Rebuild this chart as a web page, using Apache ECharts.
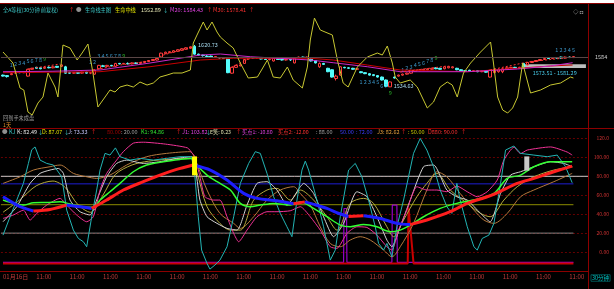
<!DOCTYPE html>
<html><head><meta charset="utf-8">
<script src="https://cdn.jsdelivr.net/npm/echarts@6/dist/echarts.min.js"></script>
<style>html,body{margin:0;padding:0;background:#000;overflow:hidden}#c{width:614px;height:289px}</style>
</head><body><div id="c"></div>
<script>
// ---------- DATA ----------
const barCount = 141;            // slots on the time axis
const tickEvery = 8;
const tickLabels = ['01月16日','11:00','11:00','11:00','11:00','11:00','11:00','11:00','11:00','11:00','11:00','11:00','11:00','11:00','11:00','11:00','11:00','11:00'];

// [open, close, low, high]
const candles = [
[1559,1557,1556,1560],[1558,1556,1554,1559],[1560,1562,1559,1563],[1563,1565,1562,1566],[1565,1564,1563,1566],
[1564,1566,1563,1567],[1557,1571,1556,1572],[1571,1573,1570,1574],[1575,1573,1572,1576],[1574,1572,1571,1575],
[1573,1575,1572,1576],[1575,1574,1573,1577],[1574,1576,1573,1577],[1577,1575,1574,1578],[1577,1580,1576,1581],
[1576,1563,1562,1578],[1564,1563,1562,1566],[1563,1564,1562,1565],[1564,1563,1562,1565],[1563,1565,1562,1566],
[1565,1563,1562,1566],[1563,1564,1561,1565],[1561,1569,1560,1570],[1572,1579,1571,1580],[1578,1577,1576,1580],
[1577,1579,1576,1580],[1579,1578,1577,1580],[1577,1583,1576,1584],[1583,1582,1581,1584],[1582,1583,1581,1584],
[1583,1582,1581,1585],[1582,1584,1581,1585],[1584,1583,1582,1585],[1583,1585,1582,1586],[1585,1587,1584,1588],
[1587,1589,1586,1590],[1589,1591,1588,1592],[1590,1593,1589,1594],[1596,1604,1595,1605],[1603,1606,1602,1607],
[1605,1607,1604,1608],[1606,1609,1605,1610],[1608,1611,1607,1612],[1610,1613,1609,1614],[1612,1615,1611,1616],
[1614,1617,1613,1618],[1618,1602,1601,1620.73],[1602,1600,1599,1603],[1600,1599,1597,1601],[1598,1597,1596,1600],
[1598,1596,1595,1599],[1596,1597,1595,1598],[1595,1594,1593,1596],[1594,1593,1592,1595],[1594,1564,1563,1595],
[1563,1575,1562,1576],[1575,1579,1574,1580],[1578,1580,1577,1581],[1583,1591,1582,1592],[1592,1594,1591,1595],
[1595,1594,1593,1596],[1594,1595,1593,1596],[1593,1592,1591,1594],[1592,1591,1590,1593],[1591,1592,1589,1593],
[1588,1593,1587,1594],[1592,1591,1590,1593],[1591,1590,1589,1592],[1590,1591,1589,1592],[1591,1590,1588,1592],
[1584,1594,1583,1595],[1595,1596,1594,1597],[1596,1595,1594,1597],[1595,1596,1594,1597],[1592,1588,1587,1593],
[1589,1584,1583,1590],[1576,1583,1574,1585],[1583,1581,1580,1584],[1573,1566,1565,1574],[1570,1555,1554,1571],
[1552,1557,1548,1560],[1559,1576,1558,1577],[1575,1574,1573,1576],[1574,1573,1572,1575],[1573,1571,1570,1574],
[1571,1572,1570,1573],[1566,1564,1563,1567],[1564,1562,1561,1565],[1562,1559,1558,1563],[1560,1558,1557,1561],
[1558,1555,1554,1559],[1555,1549,1548,1556],[1549,1536,1535,1550],[1535,1545,1534.63,1546],[1555,1553,1552,1556],
[1557,1559,1556,1560],[1559,1561,1558,1562],[1561,1563,1560,1564],[1563,1569,1562,1570],[1567,1569,1566,1570],
[1568,1570,1567,1571],[1569,1571,1568,1572],[1570,1572,1569,1573],[1571,1573,1570,1574],[1574,1572,1571,1575],
[1573,1571,1570,1574],[1572,1576,1571,1577],[1574,1577,1573,1578],[1574,1576,1573,1577],[1573,1570,1569,1574],
[1570,1568,1567,1571],[1568,1567,1566,1569],[1569,1567,1566,1570],[1567,1568,1566,1569],[1568,1566,1565,1569],
[1566,1567,1565,1568],[1567,1565,1564,1568],[1555,1569,1554,1570],[1564,1571,1563,1572],[1566,1570,1564,1572],
[1566,1572,1563,1574],[1572,1574,1571,1575],[1574,1575,1573,1576],[1575,1574,1573,1576],[1574,1575,1573,1576],
[1583,1574,1572,1584],[1580,1585,1579,1586],[1585,1587,1584,1588],[1587,1589,1586,1590],[1589,1591,1588,1592],
[1591,1593,1590,1594],[1594,1593,1592,1595],[1593,1595,1592,1596],[1595,1594,1593,1596],[1596,1594,1593,1597],
[1594,1596,1593,1597],[1596,1595,1594,1597],[1595,1597,1594,1598]
];

// top panel lines: [barIndex, price]
const m20 = [[0,1566],[12,1567],[23.3,1569.5],[35.3,1583.8],[47.4,1600.2],[52.2,1602.3],[59.4,1596.7],[73.8,1590],[79.3,1584.4],[87.5,1576.2],[95.4,1566],[111.5,1566],[123.6,1571.5],[131.5,1577.7],[136.8,1584.4]];
const m30 = [[0,1564],[23.3,1566],[35.3,1576.2],[47.4,1590],[55.3,1593.5],[73.8,1593.5],[79.3,1590],[87.5,1579.7],[95.4,1569.5],[111.5,1566],[123.6,1573],[131.5,1577.7],[136.8,1579.7]];
const lifeLine = [[0,1606.4],[2.4,1583.8],[4.1,1532.6],[5,1528.5],[6,1483.4],[7,1477.2],[8.4,1501.8],[9.6,1514.1],[10.8,1563.3],[12.5,1534.6],[13.2,1514.1],[14.4,1620.7],[16.1,1614.6],[17.8,1590],[19,1604.3],[20.4,1622.8],[21.6,1563.3],[22.8,1493.6],[24,1508],[25.7,1528.5],[26.9,1524.4],[28.1,1534.6],[29.8,1538.7],[31.3,1534.6],[32.9,1544.9],[34.6,1538.7],[36.1,1542.8],[37.7,1555.1],[39.4,1559.2],[40.9,1563.3],[43,1563.3],[45,1569.5],[45.7,1624.8],[46.6,1641.2],[48.1,1667.9],[49,1651.5],[50.2,1667.9],[51.4,1647.4],[52.2,1637.1],[53.8,1624.8],[55.3,1614.6],[57,1583.8],[58.9,1553.1],[61.1,1555.1],[63.5,1590],[64.9,1555.1],[66.6,1553.1],[68.3,1575.6],[69.7,1549],[71.9,1532.6],[73.1,1575.6],[73.8,1631],[74.8,1676],[76.2,1651.5],[79.1,1641.2],[80.3,1590],[81.7,1542.8],[82.9,1534.6],[85.1,1575.6],[87.5,1596.1],[89.9,1604.3],[91.1,1600.2],[92.3,1618.7],[93.5,1583.8],[94.2,1555.1],[95.4,1542.8],[97.8,1549],[99.5,1534.6],[101.9,1491.6],[103.4,1503.9],[105,1534.6],[106.7,1544.9],[107.9,1538.7],[109.1,1514.1],[110.6,1563.3],[112.3,1583.8],[114.7,1606.4],[117.1,1626.9],[117.8,1583.8],[118.8,1514.1],[120,1487.5],[121.2,1481.3],[122.4,1491.6],[123.6,1514.1],[124.8,1583.8],[126,1544.9],[126.7,1522.3],[129.1,1528.5],[131.5,1538.7],[133.9,1542.8],[136.3,1555.1],[137,1553.1]];
const trendDash = [[6,1571.5],[13.7,1581.8],[13.8,null],[21.6,1569.5],[28.1,1579.7],[35.3,1587.9],[38.5,1600.2],[45.4,1616.6],[45.5,null],[55,1575.6],[58.9,1592],[59,null],[95.4,1565.4],[106.7,1577.7],[106.8,null],[117,1569.5],[126,1585.9],[136.8,1596.1]];
// sequence counts: [barIndex, price, digit]
const tdCounts = [[2,1579.7,'1'],[3,1581,'2'],[4,1583.8,'3'],[5,1583.8,'4'],[6,1587.9,'5'],[7,1589,'6'],[8,1590,'7'],[9,1590,'8'],[10,1592,'9'],
[21,1585.9,'1'],[22,1585.9,'2'],[23,1598,'3'],[24,1598,'4'],[25,1598,'5'],[26,1598,'6'],[27,1598,'7'],[28,1598,'8'],[29,1598,'9'],
[86,1545,'1'],[87,1545,'2'],[88,1545,'3'],[89,1545,'4'],[90,1545,'5'],[91,1537,'6'],[92,1537,'7'],[93,1522,'9'],
[96,1570,'1'],[97,1573,'2'],[98,1576,'3'],[99,1579,'4'],[100,1582,'5'],[101,1585,'6'],[102,1588,'7'],[103,1591,'8'],[104,1594,'9'],
[133,1610,'1'],[134,1610,'2'],[135,1610,'3'],[136,1610,'4'],[137,1610,'5']];
const highMark = {bar:'46', price:1620.73, text:'1620.73'};
const lowMark = {bar:'93', price:1536, text:'1534.63'};
const priceTag = {value:1596, text:'1584'};
const rangeBar = {from:'125', to:'140', low:1573.51, high:1581.29, text:'1573.51 - 1581.29'};

// bottom panel: [barIndex, value]
const mainLine = [[0,58.4],[2,53],[4.1,47.9],[7.3,43.3],[11.3,45],[15.3,49.6],[18.5,47.9],[21.3,46.1],[24.9,54.9],[28.9,65.5],[33.7,74.3],[37.7,81.3],[41.7,87.3],[45.7,91.9],[49.8,86.6],[53.8,76],[57.8,62],[61,56.7],[65.8,54.2],[69.8,51],[72.5,53],[75,50],[77.8,46.1],[80.5,41],[83,37.5],[86.6,38.3],[90.6,35.5],[94.6,30.3],[97.8,29],[101.8,33.8],[107.4,42.6],[111.5,51.4],[116.3,58.4],[118.7,62.6],[123.5,72.5],[127.5,77.8],[132.3,84.8],[136.7,90.8]];
const k1Line = [[0,54.9],[2.5,51.4],[4.9,49.6],[7.3,52.1],[10.5,52.4],[13.7,53.1],[16.1,50.7],[19.3,47.9],[21.7,47.2],[23.3,54.9],[25.7,63.7],[28.1,72.5],[31.3,84.8],[34.5,91.9],[38.5,95.4],[42.5,97.8],[45.3,98.9],[46.5,91.9],[49,81.3],[51.4,74.3],[54.6,65.5],[57,51.4],[59.4,47.9],[61.8,49.6],[65,51.4],[69,49.6],[71.4,53.1],[74.6,46.1],[77.8,37.3],[81,28.5],[83.4,26.7],[86.6,29.2],[89.8,26.7],[93,21.5],[95.4,23.2],[97.8,28.5],[101,37.3],[105,46.1],[109,51.4],[113,54.9],[117.9,61.9],[121.1,77.8],[124.3,81.3],[127.5,90.1],[131.5,95.4],[136.7,95.4]];
const jLine = [[0,17.9],[1.7,37.3],[3.3,54.9],[4.9,72.5],[6.1,93.6],[6.9,108],[7.7,111],[8.9,97.1],[10.5,93.6],[12.1,91.9],[14.1,79.5],[15.3,44.3],[16.9,23.2],[18.1,14.4],[19.3,10.9],[20.1,5.6],[21.3,37.3],[22.5,65.5],[23.3,86.6],[24.5,104.2],[25.7,102.4],[27,110],[28.1,100.7],[30.5,97.1],[33,98.9],[36.1,97.1],[39.3,98.9],[42.5,100.7],[45.3,100.7],[46.1,79.5],[46.9,37.3],[47.7,2.1],[49,-12],[49.7,-18],[50.9,-13.7],[52.1,-8.5],[53.8,5.6],[55.4,37.3],[57,72.5],[59,93.6],[60.6,106],[61.8,104.2],[63.4,83.1],[65,58.4],[66.6,40.8],[68.2,26.7],[69.4,16.2],[70.6,54.9],[71.8,86.6],[72.6,96],[73.4,86.6],[75.4,54.9],[77,26.7],[78.6,-8.5],[79.8,2.1],[81,37.3],[83,86.6],[84.6,93.6],[86.2,79.5],[87.8,54.9],[89.4,26.7],[90.2,9.1],[91.4,2.1],[92.2,9.1],[93.4,-5],[94.6,26.7],[96.2,54.9],[97.4,79.5],[98.6,104.2],[100.2,120],[101.8,107.7],[103.4,90.1],[105,65.5],[106.6,47.9],[107.8,40.8],[109,72.5],[109.8,54.9],[111.5,26.7],[113.1,5.6],[113.9,2.1],[115.1,14.4],[116.7,17.9],[117.9,30.3],[119.5,72.5],[120.7,107.7],[122.7,112],[124.3,104.2],[127.5,102.4],[130.7,100.7],[133.1,102.4],[135.1,90.1],[136.7,73.2]];
const j1Line = [[0,35.5],[2.5,39.1],[4.9,44.3],[6.5,33.8],[8.1,40.8],[10.5,49.6],[13.7,56.7],[15.3,49.6],[17.7,39.1],[20.1,32],[21.7,37.3],[23.3,65.5],[24.9,83.1],[27.3,97.1],[28.9,106],[31.3,115],[33.7,116],[39,114],[44.3,110],[45.5,104],[46.1,100.7],[47.3,79.5],[48.5,58.4],[50.6,54.9],[52.1,54.9],[53.8,37.3],[55.4,19.7],[56.6,10.9],[58.6,23.2],[61,37.3],[63.4,42.6],[65.8,42.6],[69,43.6],[71.4,47.9],[73.8,37.3],[76.2,23.2],[78.6,5.6],[80.2,3.9],[82.6,19.7],[85,26.7],[87.4,26],[89.8,17.9],[92.2,5.6],[93.4,2.1],[95,23.2],[97,44.3],[99.4,69],[101.8,65.5],[104.2,65.5],[106.6,63.7],[109,69.7],[111.5,63.7],[113.9,58.4],[116.3,63.7],[118.7,76],[120.3,97.1],[122.7,110.7],[124.3,104],[125.9,107.7],[131.5,111],[135.5,105.6],[136.7,102.4]];
const dLine = [[0,32],[3.3,47.9],[6.5,72.5],[8.9,83.1],[11.3,86.6],[13.3,88.3],[14.5,83.1],[16.1,54.9],[18.5,42.6],[20.9,39.1],[22.5,54.9],[24.9,79.5],[27.3,93.6],[29.7,97.1],[33.7,93.6],[37.7,95.4],[41.7,98.9],[45.3,100.7],[46.5,79.5],[47.3,54.9],[49,37.3],[51.4,30.3],[53.8,25],[56.2,23.2],[58.6,49.6],[61,72.5],[63.4,74.3],[65.8,65.5],[68.2,49.6],[71.4,69],[72.2,72.5],[74.6,61.9],[77,37.3],[79.4,16.2],[81.8,30.3],[85,63.7],[87.4,58.4],[89.8,37.3],[92.2,12.7],[93.4,5.6],[95.4,26.7],[97.8,54.9],[101,90.1],[103.4,91.9],[106.6,65.5],[109,58.4],[111.5,54.9],[114.7,40.8],[117,32],[119.5,61.9],[121.9,81.3],[124.3,84.8],[127.5,90.1],[131.5,95.4],[134.7,93.6],[136.7,90.1]];
const kLine = [[0,72.5],[4.1,79.5],[7.3,86.6],[11.3,90.1],[13.7,91.9],[16.9,83.1],[20.1,79.5],[22.5,77.8],[25.7,81.3],[29.7,91.9],[34.5,100.7],[39.3,104.2],[44.9,106],[46.5,93.6],[49,65.5],[52.1,40.8],[55.4,30.3],[57,25],[60.2,37.3],[63.4,54.9],[66.6,65.5],[69.8,69],[71.4,61.9],[73.8,49.6],[76.2,26.7],[78.6,9.1],[81,5.6],[83.4,12.7],[85.8,16.2],[88.2,12.7],[91.4,2.1],[93.4,-5],[95.4,5.6],[98.6,30.3],[101.8,65.5],[104.2,84.8],[106.6,79.5],[109.8,61.9],[113.1,44.3],[115.5,33.8],[117.9,30.3],[121.1,40.8],[124.3,58.4],[127.5,65.5],[132.3,74.3],[136.7,83.1]];
const j3Line = [[0,42],[4,55],[8,70],[12,75],[15,68],[18,50],[21,42],[24,60],[27,82],[31,92],[35,96],[40,98],[45,99],[46.5,85],[49,47.9],[52.1,30.3],[54.6,23.2],[57,23.2],[60.2,54.9],[63.4,65.5],[65.8,67.2],[69,54.9],[71.4,65.5],[74.6,54.9],[77.8,37.3],[80.2,23.2],[83.4,51.4],[86.6,56.7],[89,51.4],[92.2,26.7],[93.8,16.2],[96.2,33.8],[99.4,58.4],[101.8,72.5],[104.2,83.1],[107.4,65.5],[111.5,51.4],[114.7,40.8],[117,37.3],[120.3,54.9],[123.5,69],[127.5,79.5],[132.3,86.6],[136.7,90.1]];
const buy1Line = [[0,-10.8],[81.8,-10.8],[81.9,46],[82.5,46],[82.6,-10.8],[93.4,-10.8],[93.5,49.6],[94.6,49.6],[94.7,-10.8],[137,-10.8]];
const buy2Line = [[0,-12],[97.2,-12],[97.4,47],[98.6,-12],[137,-12]];
const refLevels = [80, 72, 50, 20];
const sellBar = [[46,81,101]];
const waitBar = [[125.8,86,101]];
const yTickValues = [0,20,40,60,80,100,120];
const yTickLabels = ['0.00','20.00','40.00','60.00','80.00','100.00','120.0'];

// ---------- CHART ----------
const FF = 'Noto Sans CJK SC';
const cats = [];
for (let k = 0; k < barCount; k++) cats.push(k % tickEvery === 0 ? (tickLabels[k / tickEvery] || '') : String(k));
const topCats = cats.map((c, k) => String(k));

function splitRuns(pts) {
  const runs = []; let cur = [pts[0]]; let dir = null;
  for (let k = 1; k < pts.length; k++) {
    const d = pts[k][1] >= pts[k - 1][1] ? 'up' : 'down';
    if (dir === null || d === dir) { cur.push(pts[k]); dir = d; }
    else { runs.push({dir, pts: cur}); cur = [pts[k - 1], pts[k]]; dir = d; }
  }
  runs.push({dir, pts: cur});
  return runs;
}

const line = (data, color, width, xi, yi, extra) => Object.assign({
  type: 'line', xAxisIndex: xi, yAxisIndex: yi, data, symbol: 'none', showSymbol: false,
  lineStyle: {color, width}, silent: true, connectNulls: false
}, extra || {});

const barRender = (color) => (params, api) => {
  const top = api.coord([api.value(0), api.value(2)]);
  const bot = api.coord([api.value(0), api.value(1)]);
  return {type: 'rect', shape: {x: top[0] - 2.5, y: top[1], width: 5, height: bot[1] - top[1]}, style: {fill: color}};
};

const series = [
  {
    type: 'candlestick', xAxisIndex: 0, yAxisIndex: 0, data: candles, barWidth: 3, silent: true,
    itemStyle: {color: '#000', color0: '#54fcfc', borderColor: '#ff3c3c', borderColor0: '#54fcfc', borderWidth: 1},
    markLine: {silent: true, symbol: 'none', animation: false,
      lineStyle: {color: '#5a4646', width: 1, type: 'solid'},
      label: {position: 'end', formatter: priceTag.text, color: '#d0d0d0', fontSize: 5.5, fontFamily: FF, distance: 7},
      data: [{yAxis: priceTag.value}]},
    markArea: {silent: true, itemStyle: {color: '#bdbdbd'},
      label: {show: true, position: 'bottom', formatter: '{b}', color: '#46c8e6', fontSize: 5.5, fontFamily: FF, distance: 2},
      data: [[{name: rangeBar.text, xAxis: rangeBar.from, yAxis: rangeBar.low}, {xAxis: rangeBar.to, yAxis: rangeBar.high}]]},
    markPoint: {silent: true, symbol: 'rect', symbolSize: 1, itemStyle: {color: 'rgba(0,0,0,0)'},
      label: {show: true, position: 'right', formatter: '{b}', color: '#a8dcf0', fontSize: 5.5, fontFamily: FF, distance: 3},
      data: [{name: highMark.text, coord: [highMark.bar, highMark.price]}, {name: lowMark.text, coord: [lowMark.bar, lowMark.price]}]}
  },
  line(m30, '#c80000', 1, 1, 0),
  line(m20, '#c828c8', 1, 1, 0),
  line(trendDash, '#ff3232', 1, 1, 0, {lineStyle: {color: '#ff3232', width: 1, type: [2, 2]}}),
  line(lifeLine, '#c8c832', 1, 1, 0),
  {
    type: 'scatter', xAxisIndex: 1, yAxisIndex: 0, symbolSize: 0, silent: true,
    label: {show: true, position: 'inside', fontSize: 5.5, fontFamily: FF},
    data: tdCounts.map(([i, p, d]) => ({value: [i, p], label: {formatter: d, color: d === '9' ? '#30d030' : '#46b4f0'}}))
  },
  // bottom panel
  line([[-0.5, refLevels[0]], [140.5, refLevels[0]]], '#c8c8c8', 1, 3, 1),
  line([[-0.5, refLevels[1]], [137, refLevels[1]]], '#1e1ed2', 1, 3, 1),
  line([[-0.5, refLevels[2]], [137, refLevels[2]]], '#8c8c00', 1, 3, 1),
  line([[-0.5, refLevels[3]], [137, refLevels[3]]], '#828282', 1, 3, 1),
  line(buy1Line, '#9600c8', 1.2, 3, 1),
  line(buy2Line, '#c80000', 2, 3, 1),
  line(kLine, '#b4783c', 1, 3, 1, {smooth: 0.3}),
  line(j3Line, '#b4aa3c', 1, 3, 1, {smooth: 0.3}),
  line(dLine, '#d2d2d2', 1, 3, 1, {smooth: 0.2}),
  line(j1Line, '#f03296', 1, 3, 1, {smooth: 0.2}),
  line(jLine, '#23b4b4', 1, 3, 1),
  line(k1Line, '#32ff32', 1.5, 3, 1, {smooth: 0.3}),
  {type: 'custom', xAxisIndex: 3, yAxisIndex: 1, data: sellBar, renderItem: barRender('#ffff00'), silent: true, z: 5},
  {type: 'custom', xAxisIndex: 3, yAxisIndex: 1, data: waitBar, renderItem: barRender('#c8c8c8'), silent: true, z: 5}
];
splitRuns(mainLine).forEach(r => series.push(line(r.pts, r.dir === 'up' ? '#ff1e1e' : '#1e1eff', 3, 3, 1, {smooth: 0.25, z: 4})));

const hasCJK = s => /[\u3000-\u9fff]/.test(s);
const txt = (x, y, text, fill, size) => ({type: 'text', x, y, silent: true, z: 100,
  style: {text, fill, fontSize: size || (hasCJK(text) ? 5.2 : 5.5), fontFamily: FF, verticalAlign: 'middle', align: 'left'}});
const hline = (x1, x2, y, color, w) => ({type: 'line', silent: true, z: 99, shape: {x1, y1: y, x2, y2: y}, style: {stroke: color, lineWidth: w || 1}});
const vline = (x, y1, y2, color) => ({type: 'line', silent: true, z: 99, shape: {x1: x, y1, x2: x, y2}, style: {stroke: color, lineWidth: 1}});
const frame = '#8c0000';

const graphics = [
  {type: 'rect', silent: true, z: 100, shape: {x: 0, y: 0, width: 614, height: 3}, style: {fill: '#ffffff'}},
  hline(0, 614, 3.5, frame), hline(0, 614, 128.5, frame), hline(0, 588, 271.5, frame), vline(588.5, 3, 289, frame),
  txt(3, 10, '全A等权(30分钟 前复权)', '#3cc8c8'), txt(69, 10, '↑', '#ff2020'), txt(76, 10, '●', '#909090'),
  txt(85, 10, '生命线主图', '#3cc8c8'), txt(115, 10, '生命中线', '#e6e600'), txt(141, 10, '1552.89', '#e6e6b4'),
  txt(163, 10, '↓', '#3cc8c8'), txt(170, 10, 'M20: 1584.43', '#e040e0'), txt(207, 10, '↑', '#ff2020'),
  txt(213, 10, 'M30: 1578.41', '#ff3030'), txt(249, 10, '↑', '#ff2020'), txt(573, 12, '◇ ◘', '#a0a0a0'),
  txt(3, 118, '回到手未成盘', '#a0a0a0'), txt(3, 125, '1天', '#e08c28'),
  txt(2, 132, '●', '#909090'), txt(9, 132, 'KJ', '#3cc8c8'),
  txt(17, 132, 'K: 82.49', '#e6e6e6'), txt(38, 132, '↓', '#3cc8c8'),
  txt(42, 132, 'D: 87.07', '#e6e600'), txt(64, 132, '↓', '#3cc8c8'),
  txt(68, 132, 'J: 73.33', '#c8c8ff'), txt(91, 132, '↑', '#ff2020'),
  txt(107, 132, '80.00', '#a00000'), txt(121, 132, ': 20.00', '#a0a0a0'),
  txt(141, 132, 'K1: 94.86', '#30e030'), txt(176, 132, '↑', '#ff2020'),
  txt(182, 132, 'J1: 103.82', '#e040e0'), txt(206, 132, '↓', '#3cc8c8'),
  txt(210, 132, 'E笑: 0.23', '#e6e6b4'), txt(236, 132, '↑', '#ff2020'),
  txt(242, 132, '买点1: -10.80', '#e040e0'), txt(278, 132, '买点2: -12.00', '#ff3030'),
  txt(316, 132, ': 88.00', '#a0a0a0'), txt(340, 132, '50.00', '#3c3cff'), txt(356, 132, ': 72.00', '#3c3cff'),
  txt(377, 132, 'J3: 82.62', '#e6a03c'), txt(401, 132, '↑', '#ff2020'),
  txt(408, 132, ': 50.00', '#c8c800'), txt(428, 132, 'D880: 90.00', '#ff3030'), txt(461, 132, '↑', '#ff2020'),
  {type: 'text', x: 591, y: 278, silent: true, z: 100, style: {text: '30分钟', fill: '#00c8c8', fontSize: 5.5, fontFamily: FF,
    verticalAlign: 'middle', align: 'left', borderColor: '#008c8c', borderWidth: 0.6, padding: [1, 1, 0, 1]}}
];

const chart = echarts.init(document.getElementById('c'), null, {renderer: 'canvas'});
chart.setOption({
  backgroundColor: '#000', animation: false,
  grid: [
    {left: 0.92, width: 587.08, top: 4, height: 124, containLabel: false, outerBoundsMode: 'none'},
    {left: 0.92, width: 587.08, top: 128, height: 143, containLabel: false, outerBoundsMode: 'none'}
  ],
  xAxis: [
    {type: 'category', gridIndex: 0, data: topCats, boundaryGap: true, show: false},
    {type: 'value', gridIndex: 0, min: -0.5, max: 140.5, show: false},
    {type: 'category', gridIndex: 1, data: cats, boundaryGap: true, position: 'bottom',
      axisLine: {show: false}, axisTick: {show: false}, splitLine: {show: false},
      axisLabel: {interval: tickEvery - 1, align: 'left', color: '#c03c3c', fontSize: 6, fontFamily: FF, margin: 3,
        formatter: (v, k) => (k % tickEvery === 0 ? v : '')}},
    {type: 'value', gridIndex: 1, min: -0.5, max: 140.5, show: false}
  ],
  yAxis: [
    {type: 'value', gridIndex: 0, min: 1450.6, max: 1704.8, show: false, scale: true},
    {type: 'value', gridIndex: 1, min: -20, max: 131, interval: 20, position: 'right',
      axisLine: {show: false}, axisTick: {show: false},
      splitLine: {show: true, lineStyle: {color: '#640000', width: 1, type: [2, 2]}},
      axisLabel: {color: '#d23232', fontSize: 5, fontFamily: FF, align: 'right', margin: 21, showMaxLabel: false,
        formatter: v => { const k = yTickValues.indexOf(v); return k >= 0 ? yTickLabels[k] : ''; }}}
  ],
  series,
  graphic: graphics
});
</script></body></html>
